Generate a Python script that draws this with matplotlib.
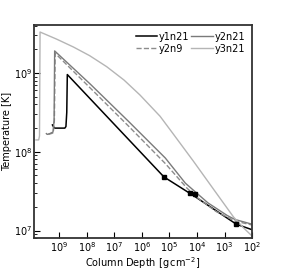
import numpy as np
import matplotlib
matplotlib.use("Agg")
import matplotlib.pyplot as plt

# curves, as log10(column depth), log10(T)
y1n21_lx = [9.25, 9.20, 9.16, 9.00, 8.80, 8.76, 8.73, 8.71, 5.20, 4.25, 4.07, 3.3, 2.57, 2.0]
y1n21_lt = [8.34, 8.31, 8.30, 8.30, 8.30, 8.32, 8.50, 8.98, 7.68, 7.47, 7.43, 7.25, 7.08, 7.01]

y2n21_lx = [9.47, 9.44, 9.35, 9.23, 9.19, 9.17, 7.88, 6.5, 5.15, 4.42, 3.6, 2.9, 2.62, 2.0]
y2n21_lt = [8.23, 8.22, 8.23, 8.25, 8.40, 9.28, 8.86, 8.39, 7.92, 7.60, 7.35, 7.19, 7.14, 7.08]

y2n9_lx = [9.40, 9.30, 9.22, 9.18, 9.15, 7.88, 6.5, 5.15, 4.37, 4.0, 3.3, 2.62, 2.0]
y2n9_lt = [8.22, 8.23, 8.24, 8.40, 9.25, 8.81, 8.33, 7.85, 7.54, 7.42, 7.24, 7.12, 7.07]

y3n21_lx = [9.85, 9.75, 9.72, 9.70, 9.1, 8.49, 7.9, 7.28, 6.65, 6.07, 5.34, 4.85, 4.13, 3.35, 2.67, 2.3, 2.0]
y3n21_lt = [8.15, 8.15, 8.20, 9.52, 9.43, 9.33, 9.22, 9.08, 8.91, 8.72, 8.45, 8.22, 7.88, 7.50, 7.17, 7.03, 6.93]

marker_lx = [5.20, 4.25, 4.07, 2.57]
marker_lt = [7.68, 7.47, 7.46, 7.08]

plt.rcParams['font.size'] = 7
fig = plt.figure(figsize=(2.81, 2.74), dpi=100)
ax = fig.add_axes([0.121, 0.130, 0.776, 0.779])

ax.plot(10 ** np.array(y1n21_lx), 10 ** np.array(y1n21_lt), color='black', lw=1.1, label='y1n21')
ax.plot(10 ** np.array(y2n9_lx), 10 ** np.array(y2n9_lt), color='#8c8c8c', lw=1.0, ls='--', label='y2n9')
ax.plot(10 ** np.array(y2n21_lx), 10 ** np.array(y2n21_lt), color='#7a7a7a', lw=1.0, label='y2n21')
ax.plot(10 ** np.array(y3n21_lx), 10 ** np.array(y3n21_lt), color='#b5b5b5', lw=1.0, label='y3n21')
ax.plot(10 ** np.array(marker_lx), 10 ** np.array(marker_lt), 's', color='black', ms=3, ls='none')

ax.set_xscale('log')
ax.set_yscale('log')
ax.set_xlim(10 ** 9.92, 100)
ax.set_ylim(10 ** 6.90, 10 ** 9.61)
ax.set_xticks([10 ** k for k in range(9, 1, -1)])
ax.xaxis.set_minor_locator(matplotlib.ticker.NullLocator())
ax.tick_params(which='both', direction='in', labelsize=7, pad=1.5)
ax.tick_params(which='major', length=4)
ax.tick_params(which='minor', length=2)
for s in ax.spines.values():
    s.set_linewidth(1.3)
    s.set_color('#333333')

ax.set_xlabel(r'Column Depth [g$\,$cm$^{-2}$]', fontsize=7, labelpad=1)
ax.set_ylabel('Temperature [K]', fontsize=7, labelpad=1)

ax.legend(loc='upper right', ncol=2, frameon=False, fontsize=7, handlelength=2.2,
          columnspacing=0.2, handletextpad=0.2, labelspacing=0.2, borderaxespad=0.3)

fig.savefig('out.png', dpi=100)
